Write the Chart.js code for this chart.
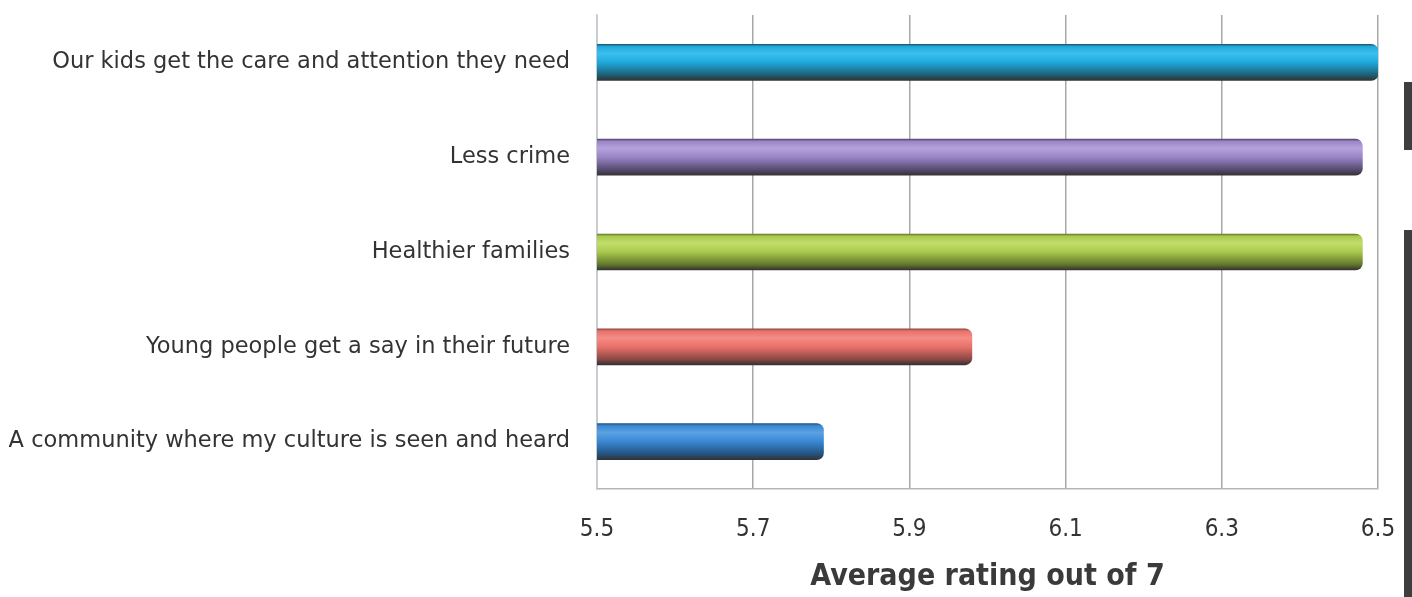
<!DOCTYPE html>
<html>
<head>
<meta charset="utf-8">
<script src="https://cdn.jsdelivr.net/npm/chart.js@4.4.1/dist/chart.umd.min.js"></script>
<style>
  html, body { margin: 0; padding: 0; background: #fff; }
  #wrap { position: relative; width: 1412px; height: 597px; }
  .strip { position: absolute; right: 0; width: 8px; background: #3c3f3e; }
</style>
</head>
<body>
<div id="wrap">
  <canvas id="chart" width="1412" height="597"></canvas>
  <div class="strip" style="top:82px;height:68px"></div>
  <div class="strip" style="top:230px;height:367px"></div>
</div>
<script>
// categories top to bottom
const categories = [
    'Our kids get the care and attention they need',
    'Less crime',
    'Healthier families',
    'Young people get a say in their future',
    'A community where my culture is seen and heard'
];
// average rating out of 7
const ratings = [6.5, 6.48, 6.48, 5.98, 5.79];
const xTicks = [5.5, 5.7, 5.9, 6.1, 6.3, 6.5];

const barMain = ['#1ea9dc', '#9a85c6', '#a8c94c', '#e9716b', '#3a88d2'];
const barLight = ['#3cc0ee', '#b5a2dc', '#c2dd6c', '#f58c86', '#5aa2e4'];
const barDark = ['#1d5f74', '#564a70', '#62772d', '#8a4743', '#23527f'];

// vertical gradient so the bars look a bit like cylinders
function barGradient(context) {
    const chart = context.chart;
    const i = context.dataIndex;
    if (!chart.chartArea || !chart.scales.y || i === undefined) return barMain[i] || '#888';
    const yc = chart.scales.y.getPixelForValue(i);
    const g = chart.ctx.createLinearGradient(0, yc - 18, 0, yc + 18);
    g.addColorStop(0, barDark[i]);
    g.addColorStop(0.06, barMain[i]);
    g.addColorStop(0.25, barLight[i]);
    g.addColorStop(0.5, barMain[i]);
    g.addColorStop(0.85, barDark[i]);
    g.addColorStop(1, '#333');
    return g;
}

const ctx = document.getElementById('chart').getContext('2d');
new Chart(ctx, {
    type: 'bar',
    data: {
        labels: categories,
        datasets: [{
            data: ratings,
            backgroundColor: barGradient,
            borderWidth: 0,
            borderRadius: { topLeft: 0, bottomLeft: 0, topRight: 7, bottomRight: 7 },
            borderSkipped: false,
            barThickness: 36
        }]
    },
    options: {
        indexAxis: 'y',
        responsive: false,
        animation: false,
        layout: { padding: { top: 15, right: 34, bottom: 0, left: 0 } },
        plugins: { legend: { display: false }, tooltip: { enabled: false } },
        scales: {
            x: {
                min: 5.5,
                max: 6.5,
                afterBuildTicks: scale => { scale.ticks = xTicks.map(v => ({ value: v })); },
                afterFit: scale => {
                    scale.height = 108;
                    scale.paddingLeft = 0;
                    scale.paddingRight = 0;
                },
                grid: { color: '#a8a8a8', lineWidth: 1.5, drawTicks: false },
                border: { color: '#b5b5b5', width: 1.5 },
                ticks: {
                    padding: 26,
                    color: '#333',
                    font: { family: 'DejaVu Sans Condensed', size: 24 },
                    callback: v => v.toFixed(1)
                },
                title: {
                    display: true,
                    text: 'Average rating out of 7',
                    color: '#3a3a3a',
                    font: { family: 'DejaVu Sans Condensed', size: 30, weight: 'bold' },
                    padding: { top: 0, bottom: 2 }
                }
            },
            y: {
                afterFit: scale => {
                    scale.width = 597;
                    scale.paddingTop = 0;
                    scale.paddingBottom = 0;
                },
                grid: { display: false, drawTicks: false },
                border: { color: '#c4cbd4', width: 1.5 },
                ticks: {
                    padding: 27,
                    color: '#333',
                    font: { family: 'DejaVu Sans', size: 22.5 }
                }
            }
        }
    }
});
</script>
</body>
</html>
